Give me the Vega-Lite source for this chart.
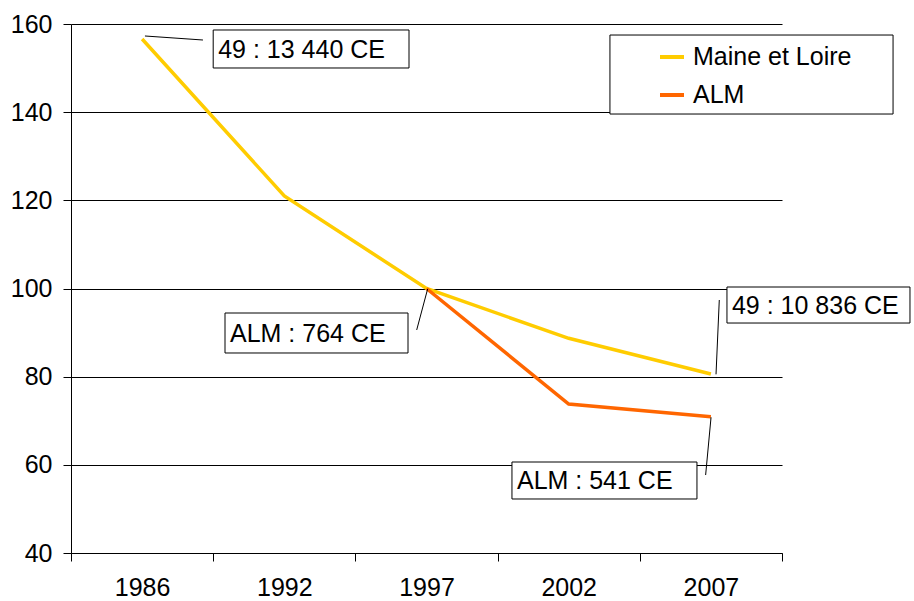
{
  "$schema": "https://vega.github.io/schema/vega-lite/v6.json",
  "width": 711,
  "height": 529,
  "autosize": {"type": "none"},
  "padding": {"left": 71, "top": 24, "right": 132, "bottom": 48},
  "background": "white",
  "config": {
    "view": {"stroke": null},
    "font": "Liberation Sans",
    "axis": {
      "domainColor": "#000",
      "tickColor": "#000",
      "tickSize": 8,
      "labelFontSize": 25,
      "labelColor": "#000",
      "labelFont": "Liberation Sans",
      "gridColor": "#000",
      "gridOpacity": 1
    }
  },
  "datasets": {
    "series": [
      {"series": "Maine et Loire", "year": "1986", "value": 156.6},
      {"series": "Maine et Loire", "year": "1992", "value": 121.0},
      {"series": "Maine et Loire", "year": "1997", "value": 100.0},
      {"series": "Maine et Loire", "year": "2002", "value": 88.7},
      {"series": "Maine et Loire", "year": "2007", "value": 80.6},
      {"series": "ALM", "year": "1997", "value": 100.0},
      {"series": "ALM", "year": "2002", "value": 73.8},
      {"series": "ALM", "year": "2007", "value": 70.9}
    ],
    "boxes": [
      {"label": "49 : 13 440 CE", "x": 1.0, "x2": 2.377, "y": 158.64, "y2": 150.02, "ym": 154.33},
      {"label": "ALM : 764 CE", "x": 1.083, "x2": 2.37, "y": 94.44, "y2": 85.37, "ym": 89.9},
      {"label": "49 : 10 836 CE", "x": 4.613, "x2": 5.9, "y": 100.34, "y2": 92.17, "ym": 96.26},
      {"label": "ALM : 541 CE", "x": 3.101, "x2": 4.402, "y": 60.64, "y2": 52.25, "ym": 56.45}
    ],
    "leaders": [
      {"x": 0.52, "y": 157.28, "x2": 0.928, "y2": 156.37},
      {"x": 2.508, "y": 99.89, "x2": 2.431, "y2": 90.59},
      {"x": 4.559, "y": 97.39, "x2": 4.536, "y2": 80.53},
      {"x": 4.501, "y": 70.78, "x2": 4.463, "y2": 57.69}
    ],
    "frame": [
      {"x": 3.79, "x2": 5.781, "y": 157.5, "y2": 139.58}
    ]
  },
  "layer": [
    {
      "data": {"name": "series"},
      "mark": {"type": "line", "strokeWidth": 3.5},
      "encoding": {
        "x": {
          "field": "year",
          "type": "ordinal",
          "scale": {"type": "band", "paddingInner": 0, "paddingOuter": 0},
          "axis": {"title": null, "labelAngle": 0, "tickBand": "extent", "grid": false, "labelPadding": 14}
        },
        "y": {
          "field": "value",
          "type": "quantitative",
          "scale": {"domain": [40, 160], "nice": false, "zero": false},
          "axis": {"title": null, "values": [40, 60, 80, 100, 120, 140, 160], "grid": true, "labelPadding": 11}
        },
        "color": {
          "field": "series",
          "type": "nominal",
          "sort": ["Maine et Loire", "ALM"],
          "scale": {"domain": ["Maine et Loire", "ALM"], "range": ["#FFCC00", "#FF6600"]},
          "legend": {
            "title": null,
            "orient": "none",
            "legendX": 587,
            "legendY": 19,
            "padding": 0,
            "symbolType": "stroke",
            "symbolSize": 576,
            "symbolStrokeWidth": 4,
            "labelFontSize": 25,
            "labelFont": "Liberation Sans",
            "labelColor": "#000",
            "labelOffset": 7,
            "rowPadding": 11
          }
        }
      }
    },
    {
      "layer": [
        {
          "data": {"name": "frame"},
          "mark": {"type": "rect", "fill": "white", "stroke": "#000", "strokeWidth": 1},
          "encoding": {
            "x": {"field": "x", "type": "quantitative", "scale": {"domain": [0, 5], "nice": false, "zero": false}, "axis": null},
            "x2": {"field": "x2"},
            "y": {"field": "y", "type": "quantitative", "axis": {"title": null}},
            "y2": {"field": "y2"}
          }
        },
        {
          "data": {"name": "leaders"},
          "mark": {"type": "rule", "stroke": "#000", "strokeWidth": 1},
          "encoding": {
            "x": {"field": "x", "type": "quantitative", "axis": null},
            "x2": {"field": "x2"},
            "y": {"field": "y", "type": "quantitative", "axis": {"title": null}},
            "y2": {"field": "y2"}
          }
        },
        {
          "data": {"name": "boxes"},
          "mark": {"type": "rect", "fill": "white", "stroke": "#000", "strokeWidth": 1},
          "encoding": {
            "x": {"field": "x", "type": "quantitative", "axis": null},
            "x2": {"field": "x2"},
            "y": {"field": "y", "type": "quantitative", "axis": {"title": null}},
            "y2": {"field": "y2"}
          }
        },
        {
          "data": {"name": "boxes"},
          "mark": {"type": "text", "align": "left", "baseline": "middle", "dx": 5, "dy": 1, "fontSize": 25, "font": "Liberation Sans", "color": "#000"},
          "encoding": {
            "x": {"field": "x", "type": "quantitative", "axis": null},
            "y": {"field": "ym", "type": "quantitative", "axis": {"title": null}},
            "text": {"field": "label"}
          }
        }
      ]
    }
  ],
  "resolve": {"scale": {"x": "independent"}}
}
